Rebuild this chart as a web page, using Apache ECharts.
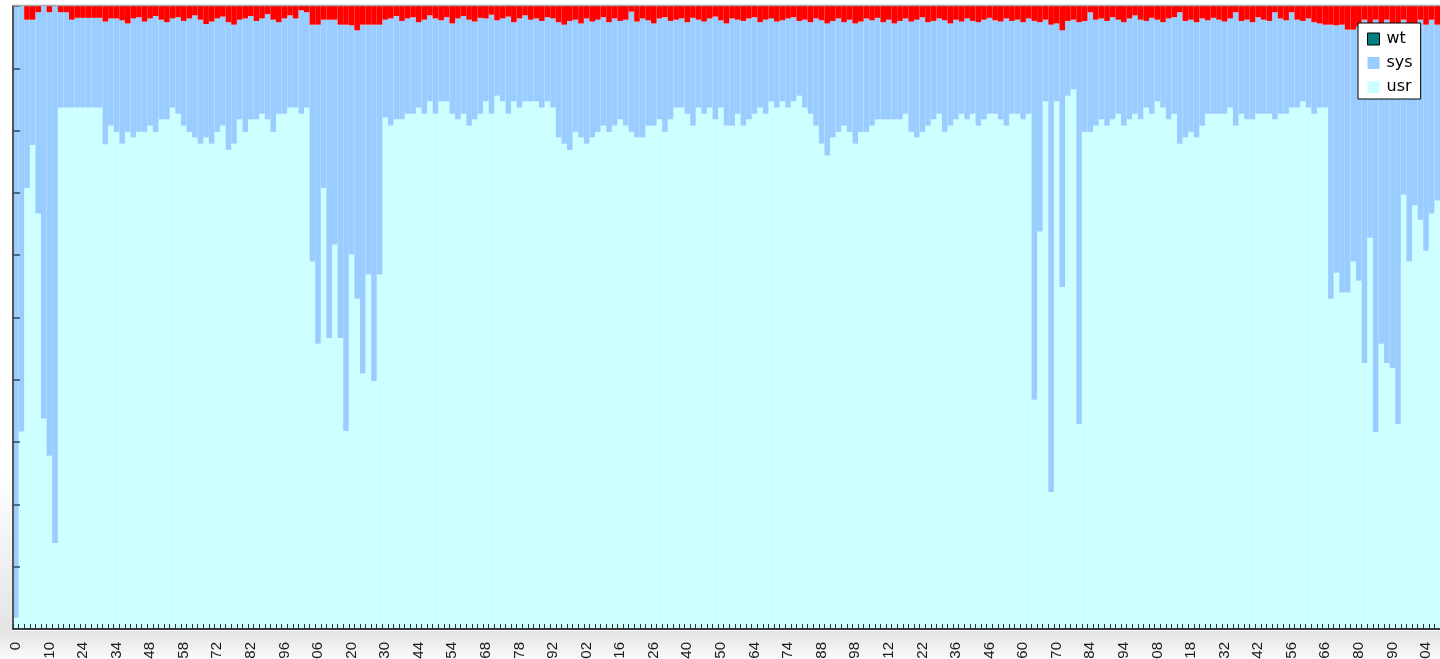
<!DOCTYPE html>
<html>
<head>
<meta charset="utf-8">
<script src="https://cdn.jsdelivr.net/npm/echarts@6/dist/echarts.min.js"></script>
<style>
html,body{margin:0;padding:0;background:#fff;}
#c{width:1440px;height:659px;}
</style>
</head>
<body>
<div id="c"></div>
<script>
// usr %
const usr = [
1.8,31.7,70.8,77.7,66.7,33.8,27.8,13.8,
83.7,83.7,83.7,83.7,83.7,83.7,83.7,83.7,
77.8,80.8,79.8,77.9,79.8,78.9,79.8,79.8,80.8,79.8,81.8,81.8,83.7,82.7,80.8,79.8,78.9,77.9,78.9,77.9,79.8,80.8,76.9,77.9,81.8,79.8,81.8,81.8,82.7,81.8,79.8,82.7,82.7,83.7,83.7,82.7,83.7,
59.0,45.8,70.8,46.7,61.7,46.7,31.8,60.1,53.0,41.0,56.9,39.8,56.9,82.1,
80.8,81.8,81.8,82.7,82.7,83.7,82.7,84.7,82.7,84.7,84.7,82.7,81.8,82.7,80.8,81.8,82.7,84.7,82.7,85.6,84.7,82.7,84.7,83.7,84.7,84.7,84.7,83.7,84.7,83.7,
78.9,77.9,76.9,79.8,78.9,77.9,78.9,79.8,80.8,79.8,80.8,81.8,80.8,79.8,78.9,78.9,80.8,80.8,81.8,79.8,81.8,83.7,83.7,82.7,80.8,83.7,82.7,83.7,81.8,83.7,80.8,80.8,82.7,80.8,81.8,82.7,83.7,82.7,84.7,83.7,84.7,83.7,84.7,85.6,83.7,82.7,80.8,77.9,76.0,
78.9,79.8,80.8,79.8,77.9,79.8,79.8,80.8,81.8,81.8,81.8,81.8,81.8,82.7,79.8,78.9,79.8,80.8,81.8,82.7,79.8,80.8,81.8,82.7,81.8,82.7,80.8,81.8,82.7,82.7,81.8,80.8,82.7,82.7,81.8,82.7,
36.8,63.8,84.7,22.0,84.7,54.9,85.6,86.6,32.9,79.8,
79.8,80.8,81.8,80.8,81.8,82.7,80.8,81.8,82.7,81.8,83.7,82.7,84.7,83.7,81.8,82.7,77.9,78.9,79.8,78.9,80.8,82.7,82.7,82.7,82.7,83.7,80.8,82.7,81.8,81.8,82.7,82.7,82.7,81.8,82.7,82.7,83.7,83.7,84.7,83.7,82.7,83.7,83.7,
53.0,57.2,54.0,54.0,59.0,55.9,42.7,62.8,31.6,45.8,42.7,41.9,32.9,69.7,59.0,68.0,65.7,60.7,66.7,68.8
];
// sys %
const sys = [
98.2,68.3,27.0,20.1,32.3,66.2,71.2,86.2,
15.3,15.3,14.1,14.4,14.4,14.4,14.4,14.4,
19.7,17.2,18.2,19.8,17.4,19.1,18.4,17.7,17.2,18.6,16.0,15.6,14.3,15.5,16.8,18.2,19.6,19.9,18.2,19.6,18.2,17.5,20.5,19.1,16.0,18.2,16.6,15.8,15.3,16.9,18.0,14.7,15.3,14.8,14.3,16.6,15.3,
38.0,51.2,27.0,51.1,36.1,50.3,65.2,36.8,43.1,56.0,40.1,57.2,40.1,15.7,
17.2,16.6,15.8,15.3,15.5,13.7,15.1,13.8,15.3,13.0,13.5,14.5,16.2,15.7,17.0,15.7,15.4,13.3,15.9,12.1,13.3,15.6,12.7,14.3,13.8,13.1,13.3,13.9,13.5,14.3,
18.5,19.1,20.7,18.0,18.3,20.1,18.6,18.0,17.4,17.6,17.2,15.8,17.0,19.3,18.6,19.1,16.9,16.4,16.2,18.4,15.8,14.1,14.3,14.7,17.3,14.1,14.8,14.3,16.5,14.0,16.4,17.2,15.1,16.8,16.2,15.5,13.7,15.1,13.3,13.8,13.0,14.3,13.5,12.0,14.1,14.7,17.2,19.8,21.2,
18.7,18.2,16.6,18.0,19.3,17.7,18.2,16.9,16.3,15.6,16.0,15.4,15.8,15.3,17.7,18.9,18.4,16.6,15.8,15.3,17.9,16.4,16.0,14.8,16.2,14.9,16.6,16.0,15.4,15.0,15.7,17.2,14.9,15.1,15.6,15.3,
60.8,33.6,13.1,75.0,12.5,41.2,12.0,11.2,64.5,17.8,
19.2,17.0,16.2,16.8,16.4,15.1,16.6,16.2,15.8,16.0,13.9,15.4,13.1,13.7,16.2,15.5,21.1,18.7,18.0,18.5,17.2,15.0,15.4,15.1,14.8,14.3,18.2,14.9,16.0,15.6,15.5,15.1,14.9,17.2,15.3,15.0,15.3,14.1,12.9,14.3,14.7,13.5,13.3,
44.0,39.7,43.0,42.2,37.2,40.8,55.1,34.2,66.2,51.2,55.1,55.1,64.1,28.1,38.0,29.0,32.1,36.3,31.1,28.2
];
// wt %
const wt = [
0,0,2.2,2.2,1.0,0,1.0,0,
1.0,1.0,2.2,1.9,1.9,1.9,1.9,1.9,
2.5,2.0,2.0,2.3,2.8,2.0,1.8,2.5,2.0,1.6,2.2,2.6,2.0,1.8,2.4,2.0,1.5,2.2,2.9,2.5,2.0,1.7,2.6,3.0,2.2,2.0,1.6,2.4,2.0,1.3,2.2,2.6,2.0,1.5,2.0,0.7,1.0,
3.0,3.0,2.2,2.2,2.2,3.0,3.0,3.1,3.9,3.0,3.0,3.0,3.0,2.2,
2.0,1.6,2.4,2.0,1.8,2.6,2.2,1.5,2.0,2.3,1.8,2.8,2.0,1.6,2.2,2.5,1.9,2.0,1.4,2.3,2.0,1.7,2.6,2.0,1.5,2.2,2.0,2.4,1.8,2.0,
2.6,3.0,2.4,2.2,2.8,2.0,2.5,2.2,1.8,2.6,2.0,2.4,2.2,0.9,2.5,2.0,2.3,2.8,2.0,1.8,2.4,2.2,2.0,2.6,1.9,2.2,2.5,2.0,1.7,2.3,2.8,2.0,2.2,2.4,2.0,1.8,2.6,2.2,2.0,2.5,2.3,2.0,1.8,2.4,2.2,2.6,2.0,2.3,2.8,
2.4,2.0,2.6,2.2,2.8,2.5,2.0,2.3,1.9,2.6,2.2,2.8,2.4,2.0,2.5,2.2,1.8,2.6,2.4,2.0,2.3,2.8,2.2,2.5,2.0,2.4,2.6,2.2,1.9,2.3,2.5,2.0,2.4,2.2,2.6,2.0,
2.4,2.6,2.2,3.0,2.8,3.9,2.4,2.2,2.6,2.4,
1.0,2.2,2.0,2.4,1.8,2.2,2.6,2.0,1.5,2.2,2.4,1.9,2.2,2.6,2.0,1.8,1.0,2.4,2.2,2.6,2.0,2.3,1.9,2.2,2.5,2.0,1.0,2.4,2.2,2.6,1.8,2.2,2.4,1.0,2.0,2.3,1.0,2.2,2.4,2.0,2.6,2.8,3.0,
3.0,3.1,3.0,3.8,3.8,3.3,2.2,3.0,2.2,3.0,2.2,3.0,3.0,2.2,3.0,3.0,2.2,3.0,2.2,3.0
];
// x tick labels, one every 6 samples
const tickLabels = ["0","10","24","34","48","58","72","82","96","106","120","130","144","154","168","178","192","202","216","226","240","250","264","274","288","298","312","322","336","346","360","370","384","394","408","418","432","442","456","466","480","490","504"];
const labelStep = 6;
const categories = usr.map((_, i) => String(i));

const chart = echarts.init(document.getElementById('c'), null, {renderer: 'canvas'});
const option = {
  animation: false,
  backgroundColor: '#ffffff',
  graphic: [
    {type: 'rect', z: -10, silent: true, shape: {x: 0, y: 631, width: 1440, height: 28},
     style: {fill: new echarts.graphic.LinearGradient(0, 0, 0, 1, [{offset: 0, color: '#e2e2e2'}, {offset: 0.5, color: '#efefef'}, {offset: 1, color: '#fafafa'}])}},
    {type: 'rect', z: -10, silent: true, shape: {x: 0, y: 470, width: 12, height: 161},
     style: {fill: new echarts.graphic.LinearGradient(0, 0, 0, 1, [{offset: 0, color: '#ffffff'}, {offset: 1, color: '#e4e4e4'}])}},
    {type: 'line', z: 100, silent: true, shape: {x1: 13, y1: 5.5, x2: 1440, y2: 5.5}, style: {stroke: '#a8a8a8', lineWidth: 1.5}}
  ],
  legend: {
    orient: 'vertical',
    left: 1358, top: 23,
    z: 20,
    backgroundColor: '#ffffff',
    borderColor: '#000000', borderWidth: 1,
    padding: [8, 8, 4, 9],
    itemWidth: 12, itemHeight: 12, itemGap: 8,
    icon: 'rect',
    textStyle: {fontFamily: 'DejaVu Sans', fontSize: 16, color: '#000', padding: [0, 0, 0, 2]},
    data: [
      {name: 'wt', itemStyle: {color: '#008080', borderColor: '#000', borderWidth: 1}},
      {name: 'sys'},
      {name: 'usr'}
    ]
  },
  grid: {left: 13, right: 0, top: 6, bottom: 30, containLabel: false, outerBoundsMode: 'none'},
  xAxis: {
    type: 'category',
    data: categories,
    boundaryGap: true,
    z: 10,
    axisLine: {show: true, lineStyle: {color: '#3a3a3a', width: 2}},
    axisTick: {show: true, inside: true, interval: 0, length: 5, lineStyle: {color: '#333', width: 1}},
    axisLabel: {
      interval: labelStep - 1,
      rotate: 90,
      margin: 13,
      fontFamily: 'Liberation Sans',
      fontSize: 15,
      color: '#1a1a1a',
      formatter: (v, idx) => {
        const k = idx / labelStep;
        return Number.isInteger(k) && tickLabels[k] !== undefined ? tickLabels[k] : '';
      }
    },
    splitLine: {show: false}
  },
  yAxis: {
    type: 'value',
    min: 0, max: 100, interval: 10,
    z: 10,
    axisLine: {show: true, lineStyle: {color: '#555', width: 2}},
    axisTick: {show: true, inside: true, length: 7, lineStyle: {color: '#34495e', width: 1.5}},
    axisLabel: {show: false},
    splitLine: {show: false}
  },
  series: [
    {name: 'usr', type: 'bar', stack: 'cpu', data: usr, barCategoryGap: '0%', itemStyle: {color: '#ccffff'}},
    {name: 'sys', type: 'bar', stack: 'cpu', data: sys, barCategoryGap: '0%', itemStyle: {color: '#99ccff'}},
    {name: 'wt', type: 'bar', stack: 'cpu', data: wt, barCategoryGap: '0%', itemStyle: {color: '#ff0000'}}
  ]
};
chart.setOption(option);
</script>
</body>
</html>
